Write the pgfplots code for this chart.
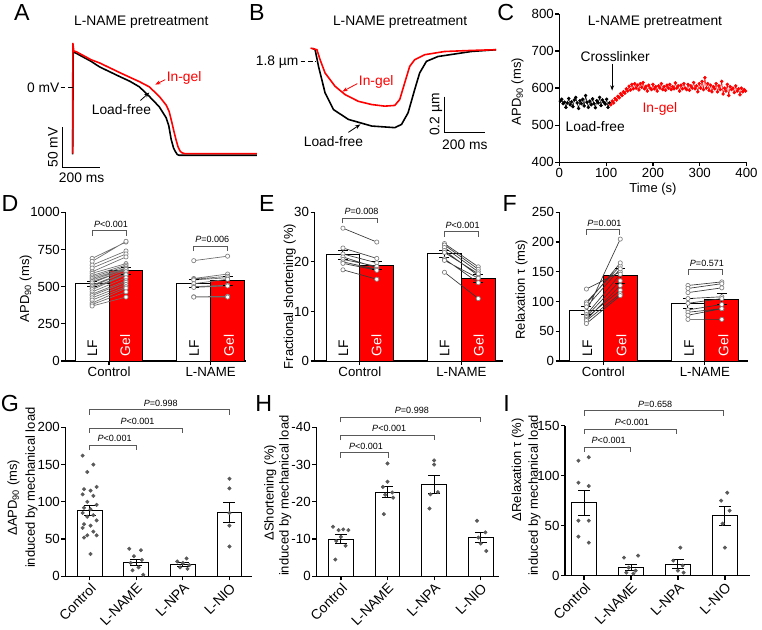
\documentclass[border=0pt]{standalone}
\usepackage{fontspec}
\setmainfont{Liberation Sans}
\usepackage{pgfplots}
\pgfplotsset{compat=1.18}
\usetikzlibrary{arrows.meta}
\definecolor{dotgray}{gray}{0.35}
\definecolor{circgray}{gray}{0.5}
\definecolor{brkcol}{gray}{0.35}
\definecolor{myred}{rgb}{1,0,0}
\newcommand\tickfont{\fontsize{10}{12}\selectfont}
\newcommand\labfont{\fontsize{9.8}{12}\selectfont}
\newcommand\pfont{\fontsize{6.8}{8}\selectfont}
\newcommand\letfont{\fontsize{17.5}{20}\selectfont}
\newcommand\titfont{\fontsize{10.4}{12}\selectfont}
\newcommand\annfont{\fontsize{10.4}{12}\selectfont}
\newcommand\brk[4]{\draw[brkcol, line width=0.6pt] (#1,#3+5) -- (#1,#3) -- (#2,#3) -- (#2,#3+5);
  \node[font=\pfont, inner sep=0pt] at ({(#1+#2)/2+1.5},#3-6.5) {#4};}
\pgfplotsset{
  base/.style={scale only axis, clip=false, anchor=south west,
    axis lines*=left, axis line style={-, line width=0.9pt},
    tick align=outside, major tick length=3pt,
    tick style={black, line width=0.9pt},
    tick label style={font=\tickfont},
    yticklabel style={inner xsep=1pt},
    xticklabel style={inner ysep=1.5pt},
    /pgf/number format/assume math mode=true,
    /pgf/number format/1000 sep={}},
  bar/.style={ybar, bar shift=0pt, draw=black, line width=0.75pt},
  pairs/.style={line width=0.5pt, color=#1, mark=*, mark size=1.6pt,
    mark options={fill=white, draw=circgray, line width=0.5pt}, unbounded coords=jump},
  eb/.style={draw=none, mark=none, error bars/.cd, y dir=both, y explicit,
    error bar style={line width=0.75pt, black},
    error mark options={rotate=90, mark size=#1, line width=0.75pt, black}},
  dots/.style={only marks, mark=*, mark size=1.3pt, color=dotgray},
  rotlab/.style={xtick={0,1,2,3}, xticklabels={Control,L-NAME,L-NPA,L-NIO},
    xticklabel style={rotate=45, anchor=north east, inner sep=1pt, font=\fontsize{10.5}{12}\selectfont}},
}
\begin{document}
\begin{tikzpicture}
\begin{scope}[x=0.75pt,y=-0.75pt]
\path[use as bounding box] (0,0) rectangle (762,632);
\end{scope}

% ---------------- A ----------------
\begin{axis}[scale only axis, clip=false, anchor=south west, at={(40.875pt,-126pt)},
  width=152.625pt, height=96pt, xmin=-100, xmax=1000, ymin=-100, ymax=60, hide axis]
\addplot[black, line width=1.2pt] coordinates {(0,-84) (3,45) (20,43) (60,38) (100,33) (146,26) (200,20) (254,14) (310,8) (362,1) (416,-11) (470,-24) (508,-38) (522,-48) (535,-65) (548,-76) (557,-80) (568,-84) (578,-85) (1000,-85)};
\addplot[myred, line width=1.2pt] coordinates {(0,-83) (1,56) (6,46) (20,45) (60,40) (100,35) (146,31) (200,25) (254,19) (310,13) (362,7.5) (416,1) (470,-11) (508,-22) (524,-30) (540,-45) (551,-56) (562,-66) (573,-75) (584,-80) (595,-82) (610,-83) (1000,-83)};
\end{axis}

% ---------------- B ----------------
\begin{axis}[scale only axis, clip=false, anchor=south west, at={(219pt,-114pt)},
  width=165pt, height=87.75pt, xmin=-100, xmax=1000, ymin=1.3, ymax=1.95, hide axis]
\addplot[black, line width=1.2pt] coordinates {(10,1.875) (23,1.867) (40,1.774) (73,1.626) (115,1.533) (190,1.478) (307,1.441) (423,1.432) (457,1.450) (490,1.515) (523,1.644) (548,1.737) (582,1.802) (640,1.829) (807,1.857) (932,1.867)};
\addplot[myred, line width=1.2pt] coordinates {(0,1.876) (32,1.867) (48,1.811) (73,1.737) (123,1.663) (173,1.617) (240,1.579) (307,1.561) (373,1.552) (423,1.556) (448,1.589) (473,1.682) (498,1.774) (523,1.811) (573,1.839) (673,1.857) (807,1.863) (932,1.867)};
\end{axis}

% ---------------- C ----------------
\begin{axis}[base, at={(421.5pt,-122.25pt)}, width=141pt, height=111.75pt,
  xmin=0, xmax=400, ymin=400, ymax=800, xtick={0,100,200,300,400}, ytick={400,500,600,700,800}]
\addplot[black, line width=0.4pt, mark=*, mark size=1.1pt] coordinates {
(2,565) (5,570) (8,558) (11,562) (14,548) (17,560) (20,572) (23,555) (26,563) (29,550) (32,568) (35,575) (38,560) (41,545) (44,566) (47,558) (50,570) (53,552) (56,580) (59,562) (62,548) (65,565) (68,555) (71,571) (74,558) (77,547) (80,566) (83,560) (86,575) (89,553) (92,568) (95,562) (98,557) (101,570) (104,548) (107,560)};
\addplot[myred, line width=0.4pt, mark=*, mark size=1.1pt] coordinates {
(110,555) (113,565) (116,560) (119,572) (122,568) (125,578) (128,574) (131,585) (134,580) (137,590) (140,586) (143,598) (146,592) (149,605) (152,595) (155,610) (158,598) (161,612) (164,600) (167,608) (170,595) (173,612) (176,602) (179,615) (182,598) (185,605) (188,592) (191,608) (194,600) (197,596) (200,610) (203,598) (206,604) (209,592) (212,606) (215,600) (218,612) (221,596) (224,604) (227,594) (230,608) (233,600) (236,610) (239,596) (242,604) (245,598) (248,614) (251,600) (254,606) (257,592) (260,608) (263,598) (266,612) (269,600) (272,596) (275,610) (278,594) (281,606) (284,600) (287,615) (290,598) (293,606) (296,590) (299,612) (302,600) (305,618) (308,596) (311,628) (314,600) (317,612) (320,594) (323,608) (326,590) (329,604) (332,598) (335,612) (338,590) (341,606) (344,596) (347,618) (350,584) (353,600) (356,592) (359,610) (362,580) (365,604) (368,596) (371,600) (374,588) (377,606) (380,592) (383,598) (386,582) (389,600) (392,590) (395,596) (398,592)};
\end{axis}

% ---------------- D ----------------
\begin{axis}[base, at={(49.275pt,-272.025pt)}, width=135.75pt, height=112.05pt,
  xmin=0, xmax=5.32, ymin=0, ymax=1000, ytick={0,250,500,750,1000},
  xtick={1.29,4.29}, xticklabels={Control,L-NAME}]
\addplot[bar, bar width=1, fill=white] coordinates {(0.79,518) (3.79,522)};
\addplot[bar, bar width=1, fill=myred] coordinates {(1.79,607) (4.79,539)};
\addplot[pairs=gray!85!black] coordinates {
(0.79,690) (1.79,800) (nan,nan) (0.79,670) (1.79,805) (nan,nan) (0.79,645) (1.79,740) (nan,nan)
(0.79,625) (1.79,720) (nan,nan) (0.79,600) (1.79,700) (nan,nan) (0.79,590) (1.79,655) (nan,nan)
(0.79,575) (1.79,645) (nan,nan) (0.79,565) (1.79,635) (nan,nan) (0.79,555) (1.79,625) (nan,nan)
(0.79,545) (1.79,620) (nan,nan) (0.79,535) (1.79,610) (nan,nan) (0.79,525) (1.79,615) (nan,nan)
(0.79,510) (1.79,600) (nan,nan) (0.79,500) (1.79,600) (nan,nan) (0.79,490) (1.79,585) (nan,nan)
(0.79,480) (1.79,580) (nan,nan) (0.79,465) (1.79,560) (nan,nan) (0.79,450) (1.79,540) (nan,nan)
(0.79,440) (1.79,530) (nan,nan) (0.79,425) (1.79,515) (nan,nan) (0.79,410) (1.79,500) (nan,nan)
(0.79,390) (1.79,490) (nan,nan) (0.79,380) (1.79,465) (nan,nan) (0.79,370) (1.79,430)};
\addplot[pairs=gray!85!black] coordinates {
(3.79,675) (4.79,705) (nan,nan) (3.79,555) (4.79,585) (nan,nan) (3.79,550) (4.79,570) (nan,nan)
(3.79,545) (4.79,560) (nan,nan) (3.79,520) (4.79,550) (nan,nan) (3.79,500) (4.79,510) (nan,nan)
(3.79,495) (4.79,505) (nan,nan) (3.79,432) (4.79,435) (nan,nan) (3.79,430) (4.79,430)};
\addplot[eb=3.75pt] coordinates {(0.79,518) +- (0,18) (1.79,607) +- (0,22) (3.79,522) +- (0,25) (4.79,539) +- (0,28)};
\end{axis}

% ---------------- E ----------------
\begin{axis}[base, at={(237pt,-272.025pt)}, width=141.75pt, height=112.05pt,
  xmin=0, xmax=5.56, ymin=0, ymax=30, ytick={0,10,20,30},
  xtick={1.34,4.34}, xticklabels={Control,L-NAME}]
\addplot[bar, bar width=1, fill=white] coordinates {(0.84,21.4) (3.84,21.6)};
\addplot[bar, bar width=1, fill=myred] coordinates {(1.84,19.2) (4.84,16.7)};
\addplot[pairs=gray!45!black] coordinates {
(0.84,26.8) (1.84,24.0) (nan,nan) (0.84,22.8) (1.84,20.7) (nan,nan) (0.84,21.6) (1.84,19.8) (nan,nan)
(0.84,21.0) (1.84,18.8) (nan,nan) (0.84,20.5) (1.84,19.1) (nan,nan) (0.84,20.0) (1.84,18.5) (nan,nan)
(0.84,19.7) (1.84,18.3) (nan,nan) (0.84,18.4) (1.84,16.5)};
\addplot[pairs=gray!45!black] coordinates {
(3.84,23.7) (4.84,19.0) (nan,nan) (3.84,23.4) (4.84,18.5) (nan,nan) (3.84,22.9) (4.84,18.0) (nan,nan)
(3.84,22.3) (4.84,17.2) (nan,nan) (3.84,21.9) (4.84,17.6) (nan,nan) (3.84,20.6) (4.84,15.8) (nan,nan)
(3.84,20.3) (4.84,16.7) (nan,nan) (3.84,17.9) (4.84,12.6)};
\addplot[eb=3.75pt] coordinates {(0.84,21.4) +- (0,0.9) (1.84,19.2) +- (0,0.8) (3.84,21.6) +- (0,0.7) (4.84,16.7) +- (0,0.8)};
\end{axis}

% ---------------- F ----------------
\begin{axis}[base, at={(421.725pt,-272.025pt)}, width=142.05pt, height=112.05pt,
  xmin=0, xmax=5.57, ymin=0, ymax=250, ytick={0,50,100,150,200,250},
  xtick={1.29,4.29}, xticklabels={Control,L-NAME}]
\addplot[bar, bar width=1, fill=white] coordinates {(0.79,84.5) (3.79,97)};
\addplot[bar, bar width=1, fill=myred] coordinates {(1.79,143) (4.79,104)};
\addplot[pairs=gray!45!black] coordinates {
(0.79,121) (1.79,150) (nan,nan) (0.79,99) (1.79,160) (nan,nan) (0.79,96) (1.79,165) (nan,nan)
(0.79,91) (1.79,155) (nan,nan) (0.79,83) (1.79,205) (nan,nan) (0.79,78) (1.79,146) (nan,nan)
(0.79,75) (1.79,135) (nan,nan) (0.79,73) (1.79,119) (nan,nan) (0.79,70) (1.79,127) (nan,nan)
(0.79,68) (1.79,113) (nan,nan) (0.79,63) (1.79,110)};
\addplot[pairs=gray!45!black] coordinates {
(3.79,127) (4.79,133) (nan,nan) (3.79,122) (4.79,130) (nan,nan) (3.79,115) (4.79,123) (nan,nan)
(3.79,105) (4.79,108) (nan,nan) (3.79,97) (4.79,105) (nan,nan) (3.79,86) (4.79,95) (nan,nan)
(3.79,82) (4.79,88) (nan,nan) (3.79,77) (4.79,88) (nan,nan) (3.79,70) (4.79,70)};
\addplot[eb=3.75pt] coordinates {(0.79,84.5) +- (0,7) (1.79,143) +- (0,12) (3.79,97) +- (0,8) (4.79,104) +- (0,9)};
\end{axis}

% ---------------- G ----------------
\begin{axis}[base, rotlab, at={(49.275pt,-434.25pt)}, width=140.475pt, height=112.275pt,
  xmin=-0.52, xmax=3.48, ymin=0, ymax=200, ytick={0,50,100,150,200}]
\addplot[bar, bar width=0.534, fill=white] coordinates {(0,88.5) (1,18.5) (2,16) (3,86)};
\addplot[dots] coordinates {(-0.15,162) (0.08,150) (-0.05,140) (0.15,120) (-0.12,117) (0.02,115) (-0.15,110) (0.08,108) (-0.05,100) (0.15,96) (-0.12,92) (0.02,90) (-0.15,85) (0.08,82) (-0.05,80) (0.15,75) (-0.12,70) (0.02,68) (-0.15,65) (0.08,60) (-0.05,55) (0.15,55) (-0.12,52) (0.02,30)};
\addplot[dots] coordinates {(0.85,37) (1.1,35) (0.95,27) (1.12,22) (0.88,18) (1.05,12) (0.92,8) (1.15,2)};
\addplot[dots] coordinates {(2.08,24) (1.88,20) (2.0,18) (2.14,15) (1.94,12) (2.1,10)};
\addplot[dots] coordinates {(3,131) (3,118) (3,85) (3,68) (3,40)};
\addplot[eb=4.5pt] coordinates {(0,88.5) +- (0,6.5) (1,18.5) +- (0,4.5) (2,16) +- (0,3) (3,86) +- (0,13.5)};
\end{axis}

% ---------------- H ----------------
\begin{axis}[base, rotlab, at={(238.275pt,-434.25pt)}, width=138pt, height=112.275pt,
  xmin=-0.53, xmax=3.40, ymin=-40, ymax=0, y dir=reverse,
  ytick={0,-10,-20,-30,-40}, yticklabels={0,-10,-20,-30,-40}]
\addplot[bar, bar width=0.534, fill=white] coordinates {(0,-10) (1,-22.6) (2,-24.6) (3,-10.4)};
\addplot[dots] coordinates {(-0.17,-13.3) (-0.05,-12.4) (0.05,-12.6) (0.16,-12.4) (0.0,-10.6) (-0.1,-9.5) (0.1,-8.2) (-0.12,-4.5)};
\addplot[dots] coordinates {(1,-30.3) (1,-25.4) (0.9,-24) (1.1,-22.5) (0.95,-21.9) (1.12,-21.1) (0.92,-16.7)};
\addplot[dots] coordinates {(2,-31.1) (2,-30) (2.08,-22.6) (1.92,-22) (1.9,-18.2)};
\addplot[dots] coordinates {(2.92,-14.9) (3.1,-11.8) (2.95,-10.4) (3.0,-8.8) (3.12,-6.8)};
\addplot[eb=4.5pt] coordinates {(0,-10) +- (0,1.1) (1,-22.6) +- (0,1.5) (2,-24.6) +- (0,2.5) (3,-10.4) +- (0,1.3)};
\end{axis}

% ---------------- I ----------------
\begin{axis}[base, rotlab, at={(425.775pt,-433.725pt)}, width=139.2pt, height=112.95pt,
  xmin=-0.405, xmax=3.53, ymin=0, ymax=150, ytick={0,50,100,150}]
\addplot[bar, bar width=0.53, fill=white] coordinates {(0,73) (1,8) (2,11.5) (3,60)};
\addplot[dots] coordinates {(-0.12,115) (0.1,118.5) (-0.12,93) (0.1,89.6) (-0.12,55) (0.1,55) (-0.12,39) (0.1,33)};
\addplot[dots] coordinates {(0.85,18) (1.15,20) (0.95,8) (1.1,5) (0.9,3) (1.05,2)};
\addplot[dots] coordinates {(2.05,28) (1.9,15) (2.1,10) (2,5) (2.12,3)};
\addplot[dots] coordinates {(3.05,83) (2.92,75) (3.1,65) (2.95,52) (3,28)};
\addplot[eb=4.5pt] coordinates {(0,73) +- (0,12.5) (1,8) +- (0,3) (2,11.5) +- (0,4.5) (3,60) +- (0,9.5)};
\end{axis}

% ---------------- annotations (pixel frame) ----------------
\begin{scope}[x=0.75pt,y=-0.75pt]
% panel letters
\foreach \l/\xx/\yy in {A/22/13, B/258/13, C/508/13, D/10/204, E/268/204, F/512/204, G/10/405, H/265/405, I/509/405}
  \node[font=\letfont, inner sep=0pt] at (\xx,\yy) {\l};
% titles
\node[font=\titfont] at (142,22) {L-NAME pretreatment};
\node[font=\titfont] at (402,22) {L-NAME pretreatment};
\node[font=\titfont] at (658,22) {L-NAME pretreatment};
% A annotations
\node[font=\annfont, anchor=east, inner sep=0pt] at (60,88) {0 mV};
\draw[black, line width=0.6pt, dash pattern=on 3.5pt off 2pt] (61,88) -- (73,88);
\draw[black, line width=0.8pt] (63,128) -- (63,168) -- (100,168);
\node[font=\annfont, rotate=90] at (53,148) {50 mV};
\node[font=\annfont] at (82,179) {200 ms};
\node[font=\annfont, text=myred] at (185,78) {In-gel};
\draw[-{Stealth[length=4pt,width=3pt]}, myred, line width=0.6pt] (166,80) -- (156,85);
\node[font=\annfont] at (122,110) {Load-free};
\draw[-{Stealth[length=4pt,width=3pt]}, black, line width=0.6pt] (141,101) -- (150,93);
% B annotations
\node[font=\annfont, anchor=east, inner sep=0pt] at (300,62) {1.8 µm};
\draw[black, line width=0.6pt, dash pattern=on 3.5pt off 2pt] (302,62) -- (317,62);
\draw[black, line width=0.8pt] (447,97) -- (447,133) -- (487,133);
\node[font=\annfont, rotate=90] at (438,115) {0.2 µm};
\node[font=\annfont] at (467,145) {200 ms};
\node[font=\annfont, text=myred] at (378,82) {In-gel};
\draw[-{Stealth[length=4pt,width=3pt]}, myred, line width=0.6pt] (359,84) -- (344,92);
\node[font=\annfont] at (335,142) {Load-free};
\draw[-{Stealth[length=4pt,width=3pt]}, black, line width=0.6pt] (350,133) -- (362,125);
% C annotations
\node[font=\labfont, rotate=90] at (520,92) {APD\textsubscript{90} (ms)};
\node[font=\labfont] at (656,190) {Time (s)};
\node[font=\annfont] at (618,57) {Crosslinker};
\draw[-{Stealth[length=4pt,width=3pt]}, black, line width=0.6pt] (615,64) -- (615,91);
\node[font=\annfont] at (598,127) {Load-free};
\node[font=\annfont, text=myred] at (663,109) {In-gel};
% D-F y labels
\node[font=\labfont, rotate=90] at (26,290) {APD\textsubscript{90} (ms)};
\node[font=\labfont, rotate=90] at (291,298) {Fractional shortening (\%)};
\node[font=\labfont, rotate=90] at (524,291) {Relaxation τ (ms)};
% LF / Gel labels
\foreach \xx in {92.7,195,345,446.7,590,692.3}
  \node[font=\annfont, rotate=90, anchor=west, inner sep=0pt] at (\xx,358) {LF};
\foreach \xx in {125.7,230,378.3,481,624.3,726.7}
  \node[font=\annfont, rotate=90, anchor=west, inner sep=0pt, text=white] at (\xx,358) {Gel};
% D-F brackets
\brk{92.7}{127.3}{231.7}{\textit{P}<0.001}
\brk{194.7}{228.7}{247.3}{\textit{P}=0.006}
\brk{344.3}{379}{219.3}{\textit{P}=0.008}
\brk{446}{480.5}{232.7}{\textit{P}<0.001}
\brk{588.7}{622.7}{230.7}{\textit{P}=0.001}
\brk{691.7}{725.7}{271}{\textit{P}=0.571}
% G-I y labels
\node[font=\labfont, rotate=90] at (13.5,500) {ΔAPD\textsubscript{90} (ms)};
\node[font=\labfont, rotate=90] at (31.7,490) {induced by mechanical load};
\node[font=\labfont, rotate=90] at (271.5,495) {ΔShortening (\%)};
\node[font=\labfont, rotate=90] at (286.5,498) {induced by mechanical load};
\node[font=\labfont, rotate=90] at (520.3,472) {ΔRelaxation τ (\%)};
\node[font=\labfont, rotate=90] at (537,498) {induced by mechanical load};
% G-I brackets
\brk{90}{137.3}{447.3}{\textit{P}<0.001}
\brk{90}{183.3}{430}{\textit{P}<0.001}
\brk{90}{230}{411.7}{\textit{P}=0.998}
\brk{342.3}{390}{455}{\textit{P}<0.001}
\brk{342.3}{436.7}{437.3}{\textit{P}<0.001}
\brk{342.3}{482.3}{419.3}{\textit{P}=0.998}
\brk{586.7}{633.3}{449.3}{\textit{P}<0.001}
\brk{586.7}{680}{431}{\textit{P}<0.001}
\brk{586.7}{726.7}{412.7}{\textit{P}=0.658}
\end{scope}
\end{tikzpicture}
\end{document}
